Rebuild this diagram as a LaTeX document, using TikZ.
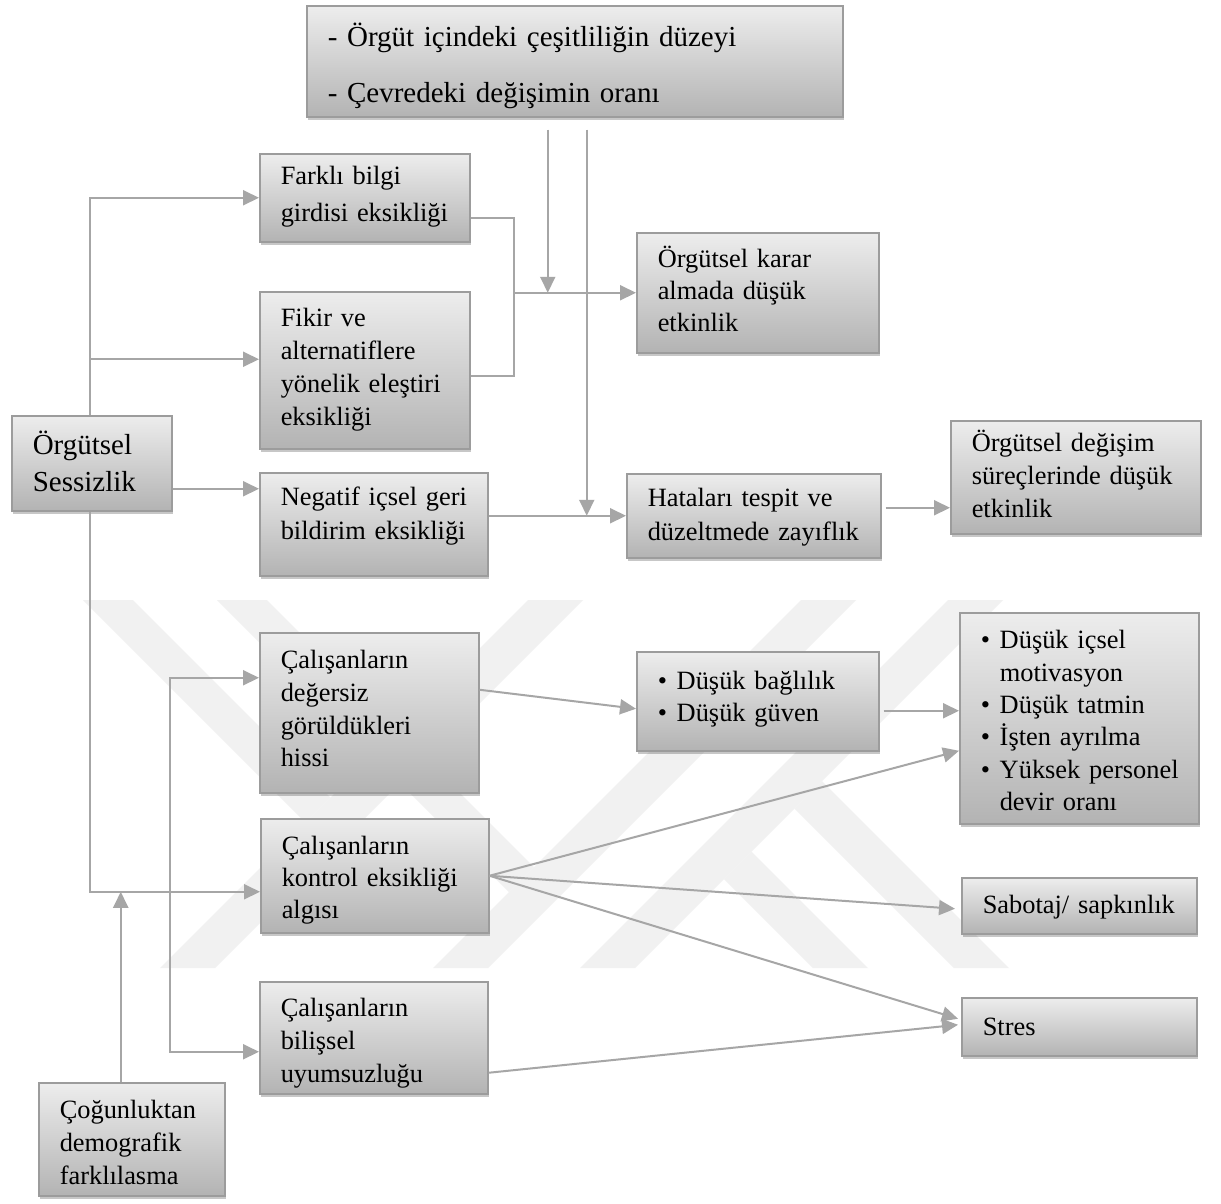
\documentclass[tikz,border=0pt]{standalone}
\usepackage{fontspec}
\setmainfont{Liberation Serif}
\usetikzlibrary{arrows.meta,shadows}
\definecolor{edge}{HTML}{9C9C9C}
\definecolor{linec}{HTML}{A6A6A6}
\definecolor{shadetop}{HTML}{EDEDED}
\definecolor{shadebot}{HTML}{B3B3B3}
\definecolor{emblem}{HTML}{F1F1F1}
\newcommand\bul{\makebox[19pt][l]{\textbullet}}
\newcommand\bulsp{\hspace*{19pt}}
\tikzset{
  box/.style={draw=edge, line width=1.5pt, top color=shadetop, bottom color=shadebot,
    drop shadow={shadow xshift=1.5pt, shadow yshift=-3pt, fill=black, opacity=0.22},
    anchor=north west, inner ysep=0pt, inner xsep=21pt, align=left, text=black},
  reg/.style={font=\fontsize{26.4}{#1}\selectfont},
  big/.style={font=\fontsize{29}{#1}\selectfont},
  conn/.style={draw=linec, line width=2pt},
  >={Triangle[length=16pt,width=15pt]},
  arr/.style={conn, ->},
}
\begin{document}
\begin{tikzpicture}[x=1pt, y=-1pt]
\fill[white] (0,0) rectangle (1221,1203);
\useasboundingbox (0,0) rectangle (1221,1203);

% faint emblem in the background
\begin{scope}[fill=emblem]
  \fill (83,600) -- (133,600) -- (330.5,797.5) -- (305.5,822.5) -- cycle;
  \fill (160,968) -- (215,968) -- (583,600) -- (528,600) -- cycle;
  \fill (217,600) -- (267,600) -- (534,867) -- (509,892) -- cycle;
  \fill (433,968) -- (488,968) -- (856,600) -- (801,600) -- cycle;
  \fill (580,968) -- (635,968) -- (1003,600) -- (948,600) -- cycle;
  \fill (794.5,808.5) -- (822,781) -- (1009,968) -- (954,968) -- cycle;
  \fill (724,879) -- (751.5,851.5) -- (868,968) -- (813,968) -- cycle;
\end{scope}

% boxes
\node[box, big=56, text width=494pt, text height=41pt, text depth=70pt] (top) at (306,5)
  {- Örgüt içindeki çeşitliliğin düzeyi\\- Çevredeki değişimin oranı};
\node[box, reg=37, text width=168pt, text height=31pt, text depth=57pt] (farkli) at (259,153)
  {Farklı bilgi\\\mbox{girdisi eksikliği}};
\node[box, reg=33, text width=168pt, text height=35pt, text depth=122pt] (fikir) at (259,291)
  {Fikir ve\\alternatiflere\\\mbox{yönelik eleştiri}\\eksikliği};
\node[box, big=37, text width=118pt, text height=39pt, text depth=56pt] (sessiz) at (11,415)
  {Örgütsel\\Sessizlik};
\node[box, reg=34, text width=186pt, text height=33pt, text depth=70pt] (negatif) at (259,472)
  {\mbox{Negatif içsel geri}\\bildirim eksikliği};
\node[box, reg=32, text width=200pt, text height=35pt, text depth=85pt] (karar) at (636,232)
  {Örgütsel karar\\almada düşük\\etkinlik};
\node[box, reg=34, text width=212pt, text height=33pt, text depth=51pt] (hata) at (626,473)
  {Hataları tespit ve\\\mbox{düzeltmede zayıflık}};
\node[box, reg=33, text width=208pt, text height=31pt, text depth=82pt] (degisim) at (950,420)
  {Örgütsel değişim\\\mbox{süreçlerinde düşük}\\etkinlik};
\node[box, reg=32.7, text width=177pt, text height=36pt, text depth=124pt] (degersiz) at (259,632)
  {Çalışanların\\değersiz\\görüldükleri\\hissi};
\node[box, reg=32, text width=186pt, text height=36pt, text depth=78pt] (kontrol) at (260,818)
  {Çalışanların\\kontrol eksikliği\\algısı};
\node[box, reg=33, text width=186pt, text height=35pt, text depth=77pt] (bilissel) at (259,981)
  {Çalışanların\\bilişsel\\uyumsuzluğu};
\node[box, reg=32, text width=200pt, text height=38pt, text depth=61pt] (guven) at (636,651)
  {\bul Düşük bağlılık\\\bul Düşük güven};
\node[box, reg=32.4, text width=197pt, text height=36pt, text depth=175pt] (sonuc) at (959,612)
  {\bul Düşük içsel\\\bulsp motivasyon\\\bul Düşük tatmin\\\bul İşten ayrılma\\\mbox{\bul Yüksek personel}\\\bulsp devir oranı};
\node[box, reg=33, text width=193pt, text height=36pt, text depth=20pt] (sabotaj) at (961,877)
  {\mbox{Sabotaj/ sapkınlık}};
\node[box, reg=33, text width=193pt, text height=38pt, text depth=20pt] (stres) at (961,997)
  {Stres};
\node[box, reg=33, text width=144pt, text height=36pt, text depth=77pt] (cogun) at (38,1082)
  {Çoğunluktan\\demografik\\farklılasma};

% helper points on the connectors
\coordinate (spT) at ([xshift=-2pt]sessiz.north);
\coordinate (spB) at ([xshift=-2pt]sessiz.south);
\coordinate (s1) at ([yshift=-25.5pt]sessiz.east);
\coordinate (fk) at ([yshift=11pt]fikir.west);
\coordinate (kl) at ([yshift=-16pt]kontrol.west);
\coordinate (cg) at ([xshift=-11pt]cogun.north);
\coordinate (d1) at ([yshift=35pt]degersiz.west);
\coordinate (b1) at ([yshift=-14pt]bilissel.west);
\coordinate (bx) at (170,0);
\coordinate (f1) at ([yshift=-20pt]farkli.east);
\coordinate (f2) at ([yshift=-6pt]fikir.east);
\coordinate (j1) at ([xshift=-122pt]karar.west);
\coordinate (t1) at ([xshift=-27pt,yshift=-12pt]top.south);
\coordinate (t2) at ([xshift=12pt,yshift=-12pt]top.south);
\coordinate (h1) at ([xshift=4pt,yshift=8pt]hata.east);
\coordinate (g1) at ([xshift=4pt,yshift=-9.5pt]guven.east);

% connectors from the silence box
\draw[arr] (spT) |- (farkli.west);
\draw[arr] (spT |- fk) -- (fk);
\draw[arr] (s1) -- (negatif.west |- s1);
\draw[arr] (spB) |- (kl);
\draw[arr] (cg) -- (cg |- kl);
\draw[conn, <->] (d1) -- (d1 -| bx) -- (b1 -| bx) -- (b1);

% decision branch
\draw[conn] (f1) -| (j1) |- (f2);
\draw[arr] (j1) -- (karar.west);
\draw[arr] (t1) -- (t1 |- karar.west);
\draw[arr] (t2) -- (t2 |- hata.west);
\draw[arr] (negatif.east |- hata.west) -- (hata.west);
\draw[arr] (h1) -- (degisim.west |- h1);

% employee outcomes
\draw[arr] ([yshift=23pt]degersiz.east) -- ([yshift=-7.5pt]guven.west);
\draw[arr] (g1) -- (sonuc.west |- g1);
\draw[arr] (kontrol.east) -- ([yshift=-32.5pt]sonuc.west);
\draw[arr] (kontrol.east) -- ([xshift=-6pt,yshift=-3pt]sabotaj.west);
\draw[arr] (kontrol.east) -- ([xshift=-3pt,yshift=8pt]stres.west);
\draw[arr] ([yshift=-35pt]bilissel.east) -- ([xshift=-3pt,yshift=2pt]stres.west);
\end{tikzpicture}
\end{document}
